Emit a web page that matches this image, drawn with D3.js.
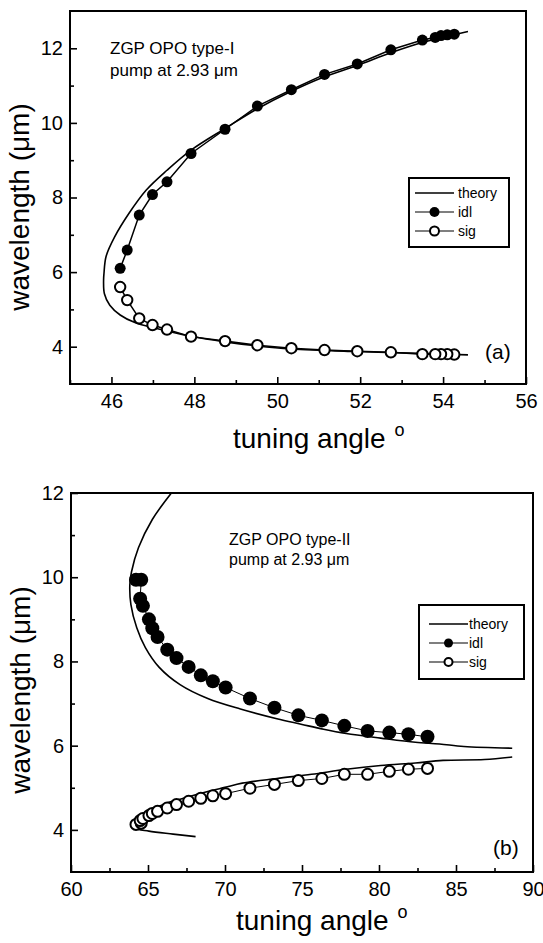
<!DOCTYPE html>
<html>
<head>
<meta charset="utf-8">
<script src="https://cdn.jsdelivr.net/npm/d3@7"></script>
<style>
  body { margin: 0; background: #fff; }
  svg { display: block; }
  text { font-family: "Liberation Sans", Arial, sans-serif; fill: #000; }
</style>
</head>
<body>
<div id="chart"></div>
<script>
// ---- panel (a): type-I ----
const angleA = [54.27, 54.10, 53.95, 53.81, 53.50, 52.74, 51.93, 51.14, 50.34, 49.52, 48.74, 47.92, 47.34, 46.99, 46.67, 46.38, 46.21];
const idlA   = [12.38, 12.36, 12.34, 12.29, 12.22, 11.96, 11.58, 11.30, 10.89, 10.45, 9.83, 9.18, 8.42, 8.08, 7.53, 6.59, 6.10];
const sigA   = [3.79, 3.80, 3.80, 3.80, 3.80, 3.85, 3.88, 3.91, 3.96, 4.04, 4.15, 4.27, 4.46, 4.58, 4.76, 5.25, 5.60];
const theoryAngleA = [54.60, 53.52, 52.74, 51.93, 51.14, 50.34, 49.52, 48.74, 47.92, 47.34, 46.84, 46.42, 46.08, 45.87, 45.82, 45.81, 45.83, 45.96, 46.21, 46.58, 47.09, 47.92, 48.74, 49.52, 50.34, 51.90, 53.47, 54.60];
const theoryWlA    = [12.45, 12.16, 11.88, 11.54, 11.24, 10.85, 10.38, 9.85, 9.27, 8.73, 8.20, 7.57, 6.95, 6.42, 5.97, 5.78, 5.42, 5.11, 4.85, 4.64, 4.49, 4.28, 4.13, 4.02, 3.94, 3.87, 3.82, 3.78];

// ---- panel (b): type-II ----
const angleB = [64.22, 64.56, 64.49, 64.67, 65.06, 65.28, 65.62, 66.25, 66.85, 67.64, 68.43, 69.21, 70.04, 71.62, 73.21, 74.76, 76.29, 77.75, 79.26, 80.67, 81.91, 83.15];
const idlB   = [9.94, 9.94, 9.49, 9.32, 9.00, 8.79, 8.58, 8.28, 8.08, 7.87, 7.67, 7.53, 7.38, 7.12, 6.90, 6.72, 6.60, 6.47, 6.35, 6.31, 6.27, 6.21];
const sigB   = [4.13, 4.16, 4.22, 4.27, 4.34, 4.39, 4.44, 4.52, 4.60, 4.68, 4.75, 4.81, 4.86, 4.99, 5.08, 5.17, 5.22, 5.32, 5.32, 5.39, 5.44, 5.46];
const theoryIdlAngleB = [66.52, 65.28, 64.38, 63.93, 63.82, 63.89, 64.27, 64.83, 65.73, 67.08, 68.88, 71.0, 73.37, 74.94, 76.40, 77.87, 80.11, 82.36, 83.93, 85.51, 88.65];
const theoryIdlWlB    = [12.0, 11.37, 10.70, 10.13, 9.82, 9.35, 8.80, 8.33, 7.86, 7.45, 7.12, 6.87, 6.64, 6.51, 6.39, 6.29, 6.18, 6.08, 6.04, 5.98, 5.94];
const theorySigAngleB = [88.65, 86.85, 84.16, 82.36, 80.11, 77.87, 75.62, 73.37, 71.12, 70.0, 68.88, 67.30, 65.96, 64.83, 64.16, 64.16, 65.06, 66.63, 68.09];
const theorySigWlB    = [5.73, 5.67, 5.65, 5.59, 5.53, 5.44, 5.32, 5.22, 5.11, 5.01, 4.91, 4.75, 4.60, 4.40, 4.17, 4.05, 3.97, 3.90, 3.84];

// ---- ticks ----
const xMajorA = [46, 48, 50, 52, 54, 56];
const xMinorA = [45, 47, 49, 51, 53, 55];
const yMajorA = [4, 6, 8, 10, 12];
const yMinorA = [5, 7, 9, 11];
const xMajorB = [60, 65, 70, 75, 80, 85, 90];
const xMinorB = [62.5, 67.5, 72.5, 77.5, 82.5, 87.5];
const yMajorB = [4, 6, 8, 10, 12];
const yMinorB = [5, 7, 9, 11];

const legendLabels = ['theory', 'idl', 'sig'];

const width = 543, height = 943;
const svg = d3.select('#chart').append('svg')
    .attr('width', width)
    .attr('height', height);

const zip = (xs, ys) => xs.map((v, i) => [v, ys[i]]);

function drawPanel(p) {
    const g = svg.append('g');
    const x = d3.scaleLinear().domain(p.xDomain).range([p.left, p.right]);
    const y = d3.scaleLinear().domain(p.yDomain).range([p.bottom, p.top]);

    // axes with inward ticks
    const axes = [
        g.append('g').attr('transform', `translate(0,${p.bottom})`)
            .call(d3.axisBottom(x).tickValues(p.xMinor).tickSize(-4).tickFormat('')),
        g.append('g').attr('transform', `translate(0,${p.bottom})`)
            .call(d3.axisBottom(x).tickValues(p.xMajor).tickSize(-7).tickPadding(10).tickFormat(d3.format('d'))),
        g.append('g').attr('transform', `translate(${p.left},0)`)
            .call(d3.axisLeft(y).tickValues(p.yMinor).tickSize(-4).tickFormat('')),
        g.append('g').attr('transform', `translate(${p.left},0)`)
            .call(d3.axisLeft(y).tickValues(p.yMajor).tickSize(-7).tickPadding(7).tickFormat(d3.format('d')))
    ];
    axes.forEach(a => {
        a.select('.domain').remove();
        a.attr('font-size', 20).attr('font-family', '"Liberation Sans", Arial, sans-serif');
        a.selectAll('line').attr('stroke', '#000').attr('stroke-width', 1.6);
        a.selectAll('text').attr('fill', '#000');
    });

    // frame
    g.append('rect')
        .attr('x', p.left).attr('y', p.top)
        .attr('width', p.right - p.left).attr('height', p.bottom - p.top)
        .attr('fill', 'none').attr('stroke', '#000').attr('stroke-width', 2);

    const line = d3.line().x(d => x(d[0])).y(d => y(d[1])).curve(d3.curveCatmullRom);
    const straight = d3.line().x(d => x(d[0])).y(d => y(d[1]));

    // theory curves
    p.theory.forEach(t => {
        g.append('path')
            .attr('d', line(t))
            .attr('fill', 'none').attr('stroke', '#000').attr('stroke-width', 1.6);
    });

    // measured idler (filled) and signal (open)
    [p.idl, p.sig].forEach(s => {
        g.append('path')
            .attr('d', straight(s))
            .attr('fill', 'none').attr('stroke', '#000').attr('stroke-width', p.dataLineWidth);
    });
    g.selectAll('circle.idl').data(p.idl).enter().append('circle')
        .attr('class', 'idl')
        .attr('cx', d => x(d[0])).attr('cy', d => y(d[1]))
        .attr('r', p.rIdl).attr('fill', '#000');
    g.selectAll('circle.sig').data(p.sig).enter().append('circle')
        .attr('class', 'sig')
        .attr('cx', d => x(d[0])).attr('cy', d => y(d[1]))
        .attr('r', p.rSig).attr('fill', '#fff').attr('stroke', '#000').attr('stroke-width', 2);

    // legend
    const L = p.legend;
    g.append('rect')
        .attr('x', L.x).attr('y', L.y).attr('width', L.w).attr('height', L.h)
        .attr('fill', '#fff').attr('stroke', '#000').attr('stroke-width', 2);
    legendLabels.forEach((lab, i) => {
        const ly = L.y + L.first + i * L.step;
        g.append('line')
            .attr('x1', L.x + L.lineX0).attr('x2', L.x + L.lineX1)
            .attr('y1', ly).attr('y2', ly)
            .attr('stroke', '#000').attr('stroke-width', i === 0 ? 1.6 : 1.2);
        const mx = (L.lineX0 + L.lineX1) / 2 + L.x;
        if (i === 1) g.append('circle').attr('cx', mx).attr('cy', ly).attr('r', L.r).attr('fill', '#000');
        if (i === 2) g.append('circle').attr('cx', mx).attr('cy', ly).attr('r', L.r - 0.5)
            .attr('fill', '#fff').attr('stroke', '#000').attr('stroke-width', 2);
        g.append('text')
            .attr('x', L.x + L.textX).attr('y', ly)
            .attr('dy', '0.35em')
            .attr('font-size', 14)
            .text(lab);
    });

    // annotation
    p.note.forEach((t, i) => {
        g.append('text')
            .attr('x', p.noteX).attr('y', p.noteY + i * p.noteStep)
            .attr('font-size', p.noteSize)
            .text(t);
    });
    g.append('text')
        .attr('x', p.tagX).attr('y', p.tagY)
        .attr('font-size', 21)
        .text(p.tag);

    // axis titles
    const xt = g.append('text')
        .attr('x', p.xTitleX).attr('y', p.xTitleY)
        .attr('font-size', 28);
    xt.append('tspan').text('tuning angle');
    xt.append('tspan').attr('dx', 9).attr('dy', -12).attr('font-size', 18).text('o');

    g.append('text')
        .attr('transform', `translate(${p.yTitleX},${p.yTitleY}) rotate(-90)`)
        .attr('text-anchor', 'middle')
        .attr('font-size', 28)
        .text('wavelength (μm)');
}

drawPanel({
    xDomain: [45, 56], yDomain: [3, 13],
    left: 70, right: 526, top: 11, bottom: 384,
    xMajor: xMajorA, xMinor: xMinorA, yMajor: yMajorA, yMinor: yMinorA,
    theory: [zip(theoryAngleA, theoryWlA)],
    idl: zip(angleA, idlA), sig: zip(angleA, sigA),
    rIdl: 5.5, rSig: 5.2, dataLineWidth: 1.5,
    legend: { x: 409, y: 178, w: 100, h: 69, first: 15, step: 19, lineX0: 6, lineX1: 45, textX: 49, r: 5 },
    note: ['ZGP OPO type-I', 'pump at 2.93 μm'], noteX: 110, noteY: 54, noteStep: 22, noteSize: 17,
    tag: '(a)', tagX: 485, tagY: 359,
    xTitleX: 233, xTitleY: 448,
    yTitleX: 29, yTitleY: 207
});

drawPanel({
    xDomain: [60, 90], yDomain: [3, 12],
    left: 71, right: 533, top: 493, bottom: 872,
    xMajor: xMajorB, xMinor: xMinorB, yMajor: yMajorB, yMinor: yMinorB,
    theory: [zip(theoryIdlAngleB, theoryIdlWlB), zip(theorySigAngleB, theorySigWlB)],
    idl: zip(angleB, idlB), sig: zip(angleB, sigB),
    rIdl: 7, rSig: 5.5, dataLineWidth: 1,
    legend: { x: 419, y: 605, w: 105, h: 74, first: 19, step: 19, lineX0: 10, lineX1: 49, textX: 50, r: 4.5 },
    note: ['ZGP OPO type-II', 'pump at 2.93 μm'], noteX: 229, noteY: 545, noteStep: 20, noteSize: 16,
    tag: '(b)', tagX: 493, tagY: 855,
    xTitleX: 236, xTitleY: 930,
    yTitleX: 30, yTitleY: 690
});
</script>
</body>
</html>
